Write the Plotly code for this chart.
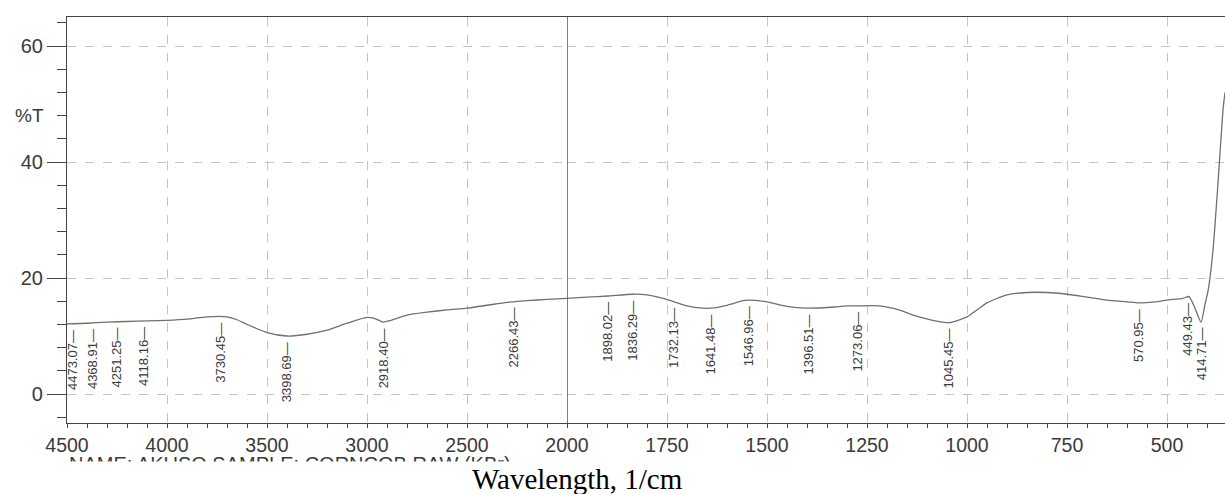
import numpy as np
import plotly.graph_objects as go

# ---- data (FTIR spectrum, %T vs wavenumber) ----
wavenumber = [4500, 4400, 4300, 4200, 4100, 4000, 3900, 3800, 3700, 3650, 3600,
              3500, 3400, 3300, 3200, 3100, 3000, 2960, 2918, 2880, 2800, 2700,
              2600, 2500, 2400, 2300, 2266, 2200, 2100, 2000, 1950, 1898, 1836,
              1800, 1760, 1732, 1700, 1660, 1641, 1600, 1560, 1547, 1500, 1450,
              1400, 1330, 1300, 1273, 1220, 1170, 1130, 1080, 1045, 1000, 950,
              900, 850, 800, 750, 700, 650, 600, 570, 530, 500, 460, 445, 430,
              415, 405, 397, 385, 372, 360, 355]
transmittance = [12.1, 12.2, 12.4, 12.5, 12.6, 12.7, 12.9, 13.3, 13.3, 12.8, 12.0,
                 10.6, 10.0, 10.3, 11.0, 12.2, 13.2, 13.0, 12.4, 12.7, 13.6, 14.1,
                 14.5, 14.8, 15.3, 15.8, 15.9, 16.1, 16.3, 16.5, 16.7, 16.9, 17.2,
                 17.1, 16.5, 15.9, 15.2, 14.8, 14.8, 15.3, 16.1, 16.2, 15.9, 15.1,
                 14.8, 15.0, 15.2, 15.2, 15.2, 14.5, 13.5, 12.6, 12.3, 13.3, 15.7,
                 17.1, 17.5, 17.5, 17.2, 16.7, 16.2, 15.9, 15.7, 15.9, 16.2, 16.5, 16.8, 14.8,
                 12.4, 15.5, 17.9, 24.8, 36.9, 49.0, 52.0]

peak_values = [4473.07, 4368.91, 4251.25, 4118.16, 3730.45, 3398.69, 2918.40,
               2266.43, 1898.02, 1836.29, 1732.13, 1641.48, 1546.96, 1396.51,
               1273.06, 1045.45, 570.95, 449.43, 414.71]
peak_labels = ["4473.07", "4368.91", "4251.25", "4118.16", "3730.45", "3398.69",
               "2918.40", "2266.43", "1898.02", "1836.29", "1732.13", "1641.48",
               "1546.96", "1396.51", "1273.06", "1045.45", "570.95", "449.43",
               "414.71"]

left_ticks = [4500, 4000, 3500, 3000, 2500, 2000]
right_ticks = [1750, 1500, 1250, 1000, 750, 500]
y_ticks = [0, 20, 40, 60]

wn = np.array(wavenumber, dtype=float)
tr = np.array(transmittance, dtype=float)
left_mask = wn >= 2000
right_mask = wn <= 2000

INK = "#3a3a3a"
AXIS = "#444444"
GRID = "#c4c4c4"
FONT = "Liberation Sans, Arial, sans-serif"

fig = go.Figure()
line_style = dict(color="#707070", width=1.3, shape="spline", smoothing=0.6)
fig.add_trace(go.Scatter(x=wn[left_mask], y=tr[left_mask], mode="lines",
                         line=line_style, xaxis="x", yaxis="y", showlegend=False))
fig.add_trace(go.Scatter(x=wn[right_mask], y=tr[right_mask], mode="lines",
                         line=line_style, xaxis="x2", yaxis="y", showlegend=False))

# peak labels (rotated, hanging just below the curve)
wn_sorted = wn[::-1]
tr_sorted = tr[::-1]
annotations = []
for v, lab in zip(peak_values, peak_labels):
    yv = float(np.interp(v, wn_sorted, tr_sorted))
    annotations.append(dict(
        x=v, y=yv, xref="x" if v >= 2000 else "x2", yref="y",
        text=lab + "\u2014", textangle=-90, showarrow=False,
        xanchor="center", yanchor="top", yshift=-4,
        font=dict(family=FONT, size=13, color=INK)))

# %T label
annotations.append(dict(x=-0.032, y=0.757, xref="paper", yref="paper", text="%T",
                        showarrow=False, xanchor="center", yanchor="middle",
                        font=dict(family=FONT, size=19, color=INK)))
# partially hidden sample name (cut by the white band below)
annotations.append(dict(x=0, y=-(451 - 423) / 406, xref="paper", yref="paper",
                        text="NAME: AKUSO SAMPLE: CORNCOB RAW (KBr)",
                        showarrow=False, xanchor="left", yanchor="top",
                        font=dict(family=FONT, size=20, color=INK)))
# white band covering the lower half of the name
annotations.append(dict(x=(330 - 67) / 1158, y=-(461 - 423) / 406, xref="paper", yref="paper",
                        text=" ", width=620, height=30, bgcolor="white",
                        showarrow=False, xanchor="center", yanchor="top",
                        borderpad=0, font=dict(size=10)))
# axis title
annotations.append(dict(x=(577 - 67) / 1158, y=-(479 - 423) / 406, xref="paper", yref="paper",
                        text="Wavelength, 1/cm", showarrow=False,
                        xanchor="center", yanchor="middle",
                        font=dict(family="Liberation Serif, Times New Roman, serif",
                                  size=29, color="black")))

split = 500 / 1158
common_x = dict(showline=True, linecolor=AXIS, linewidth=1.2, mirror=True,
                ticks="outside", ticklen=4, tickcolor=AXIS,
                tickfont=dict(family=FONT, size=19.5, color=INK),
                showgrid=True, gridcolor=GRID, griddash="dash", gridwidth=1,
                zeroline=False, anchor="y")

fig.update_layout(
    width=1225, height=494,
    margin=dict(l=67, r=0, t=17, b=71, autoexpand=False),
    paper_bgcolor="white", plot_bgcolor="white",
    xaxis=dict(domain=[0, split], range=[4500, 2000], tickmode="array",
               tickvals=left_ticks, ticktext=[str(t) for t in left_ticks],
               minor=dict(tickmode="linear", tick0=0, dtick=100, ticks="outside",
                          ticklen=4, tickcolor=AXIS, showgrid=False),
               **common_x),
    xaxis2=dict(domain=[split, 1], range=[2000, 355], tickmode="array",
                tickvals=right_ticks, ticktext=[str(t) for t in right_ticks],
                minor=dict(tickmode="linear", tick0=0, dtick=50, ticks="outside",
                           ticklen=4, tickcolor=AXIS, showgrid=False),
                **common_x),
    yaxis=dict(range=[-5, 65], tickmode="array", tickvals=y_ticks,
               ticktext=[str(t) for t in y_ticks],
               showline=True, linecolor=AXIS, linewidth=1.2,
               ticks="outside", ticklen=19, tickcolor=AXIS,
               minor=dict(tickmode="linear", tick0=0, dtick=4, ticks="outside",
                          ticklen=9, tickcolor=AXIS, showgrid=False),
               tickfont=dict(family=FONT, size=20, color=INK),
               showgrid=True, gridcolor=GRID, griddash="dash", gridwidth=1,
               zeroline=False, anchor="x"),
    shapes=[dict(type="line", xref="x2", yref="paper", x0=2000, x1=2000, y0=0, y1=1,
                 line=dict(color="#555555", width=1.5))],
    annotations=annotations,
)

fig.write_html("out.html")
